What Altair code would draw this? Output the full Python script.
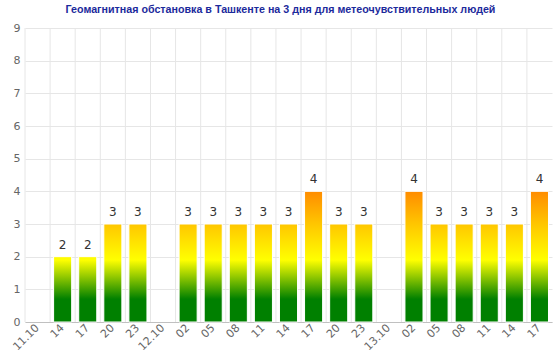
import altair as alt
import pandas as pd

labels = ["11.10", "14", "17", "20", "23", "12.10", "02", "05", "08", "11", "14",
          "17", "20", "23", "13.10", "02", "05", "08", "11", "14", "17"]
values = [None, 2, 2, 3, 3, None, 3, 3, 3, 3, 3, 4, 3, 3, None, 4, 3, 3, 3, 3, 4]

title = "Геомагнитная обстановка в Ташкенте на 3 дня для метеочувствительных людей"

# colour stops in value space (value, rgb)
color_stops = [(0.0, (0, 128, 0)), (0.7, (0, 128, 0)), (1.9, (255, 255, 0)),
               (3.0, (255, 198, 0)), (4.0, (255, 140, 0))]

df = pd.DataFrame({"key": list(range(len(labels))), "label": labels, "value": values})
bars_df = df.dropna()


def color_at(v):
    for (v0, c0), (v1, c1) in zip(color_stops[:-1], color_stops[1:]):
        if v0 <= v <= v1:
            t = 0 if v1 == v0 else (v - v0) / (v1 - v0)
            c = [round(a + (b - a) * t) for a, b in zip(c0, c1)]
            return "#%02x%02x%02x" % tuple(c)
    return "#%02x%02x%02x" % color_stops[-1][1]


def gradient_for(h):
    stops = []
    for v, c in color_stops:
        if v < h:
            stops.append(alt.GradientStop(offset=v / h, color="#%02x%02x%02x" % c))
    stops.append(alt.GradientStop(offset=1, color=color_at(h)))
    return alt.Gradient(gradient="linear", stops=stops, x1=0, x2=0, y1=1, y2=0)


label_expr = "[" + ",".join("'%s'" % l for l in labels) + "][datum.value]"

x_axis = alt.Axis(title=None, labelExpr=label_expr, labelAngle=-45,
                  labelAlign="right", labelBaseline="middle",
                  labelFontSize=11, labelColor="#666666",
                  labelFont="DejaVu Sans", labelPadding=4,
                  ticks=False, grid=False, domainColor="#c0c0c0")
x_scale = alt.Scale(paddingInner=0, paddingOuter=0)
x_enc = alt.X("key:O", scale=x_scale, axis=x_axis)

y_scale = alt.Scale(domain=[0, 9], nice=False)
y_axis = alt.Axis(title=None, values=list(range(10)), labelFontSize=11,
                  labelColor="#666666", labelFont="DejaVu Sans",
                  labelPadding=5, ticks=False, domain=False,
                  gridColor="#e6e6e6", labelOverlap=False)
y_enc = alt.Y("value:Q", scale=y_scale, axis=y_axis)

grid = alt.Chart(df).mark_rule(color="#e6e6e6", strokeWidth=1).encode(
    x=alt.X("key:O", bandPosition=0, scale=x_scale, axis=x_axis))

layers = [grid]
for h in sorted(bars_df["value"].unique()):
    layers.append(
        alt.Chart(bars_df[bars_df["value"] == h]).mark_bar(
            color=gradient_for(float(h)), width=alt.RelativeBandSize(0.72),
            stroke="#ffffff", strokeWidth=1
        ).encode(x=x_enc, y=y_enc)
    )

text = alt.Chart(bars_df).mark_text(
    baseline="bottom", dy=-5, fontSize=12, color="#333333", font="DejaVu Sans"
).encode(x=x_enc, y=y_enc, text=alt.Text("value:Q", format="d"))
layers.append(text)

chart = alt.layer(*layers).properties(
    width=527, height=294,
    title=alt.TitleParams(title, fontSize=10.7, font="Liberation Sans",
                          fontWeight="bold", color="#1c2a9c", offset=6,
                          anchor="middle", dx=-8),
    autosize=alt.AutoSizeParams(type="none"),
    padding={"left": 25, "top": 28, "right": 8, "bottom": 30},
).configure_view(stroke=None)

chart.save("out.html", embed_options={"renderer": "svg", "actions": False})
